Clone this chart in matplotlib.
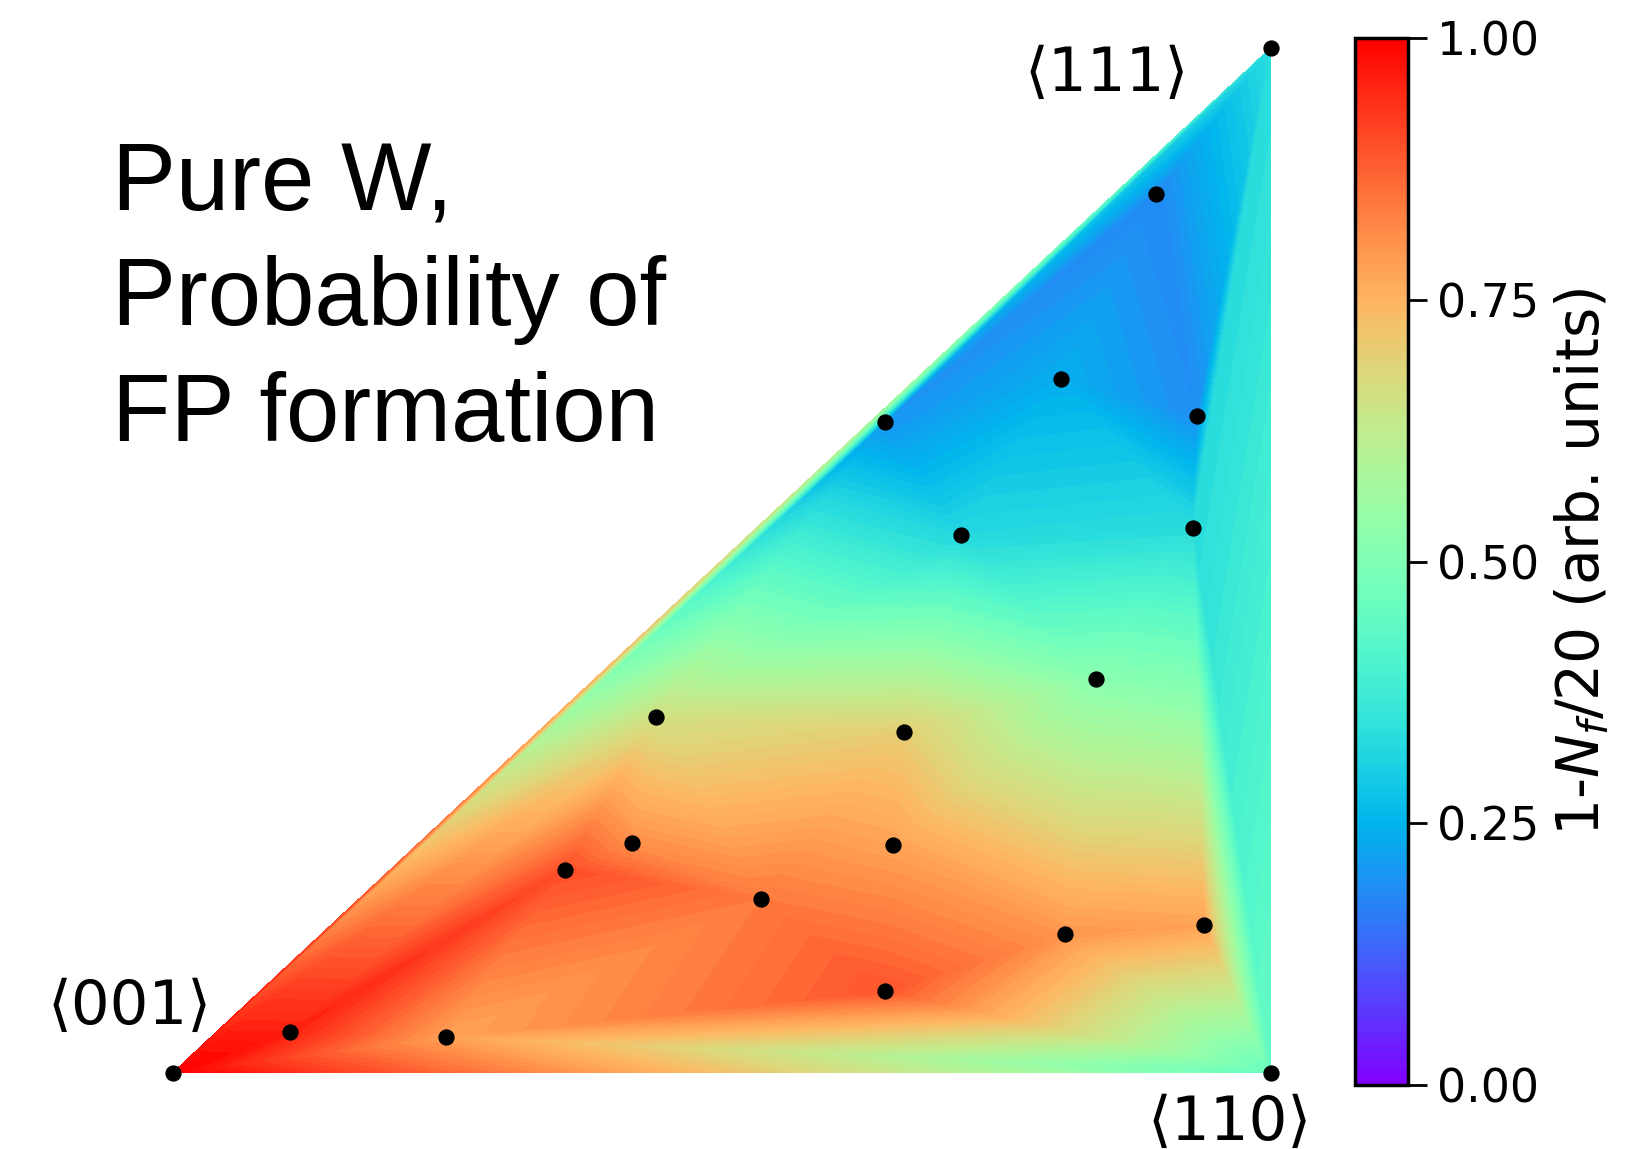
import matplotlib
matplotlib.use("Agg")
import matplotlib.pyplot as plt
import matplotlib.tri as mtri
import numpy as np

# Sample directions in the stereographic triangle (normalised coordinates)
# first three are the corners <001>, <110>, <111>
x_pts = [0.000, 1.000, 1.000,
         0.107, 0.249, 0.357, 0.418, 0.440, 0.536, 0.649, 0.656, 0.666,
         0.813, 0.939, 0.841, 0.718, 0.929, 0.649, 0.809, 0.933, 0.896]
y_pts = [0.000, 0.000, 1.000,
         0.040, 0.035, 0.198, 0.224, 0.347, 0.170, 0.080, 0.222, 0.333,
         0.135, 0.144, 0.384, 0.525, 0.532, 0.635, 0.677, 0.641, 0.858]
# 1 - N_f/20
prob = [1.00, 0.45, 0.33,
        0.96, 0.78, 0.90, 0.81, 0.66, 0.84, 0.89, 0.78, 0.70,
        0.80, 0.78, 0.52, 0.32, 0.33, 0.20, 0.24, 0.19, 0.18]

corner_labels = ["\u27e8001\u27e9", "\u27e8110\u27e9", "\u27e8111\u27e9"]
cbar_ticks = [0.0, 0.25, 0.5, 0.75, 1.0]

fig = plt.figure(figsize=(16.41, 11.49), dpi=100)
ax = fig.add_axes([0.1052, 0.0663, 0.6691, 0.8919])

tri = mtri.Triangulation(x_pts, y_pts)
levels = np.linspace(0, 1, 101)
cs = ax.tricontourf(tri, prob, levels=levels, cmap="rainbow", vmin=0, vmax=1)
ax.scatter(x_pts, y_pts, s=115, color="black", zorder=5, clip_on=False)

ax.set_xlim(0, 1)
ax.set_ylim(0, 1)
ax.axis("off")

# corner labels
ax.text(-0.039, 0.064, corner_labels[0], fontsize=44, ha="center", va="center")
ax.text(0.963, -0.049, corner_labels[1], fontsize=44, ha="center", va="center")
ax.text(0.851, 0.974, corner_labels[2], fontsize=44, ha="center", va="center")

fig.text(0.0683, 0.878, "Pure W,\nProbability of\nFP formation",
         fontsize=69, family="Liberation Sans", ha="left", va="top",
         linespacing=1.36)

# colorbar
cax = fig.add_axes([0.8257, 0.0554, 0.0323, 0.9117])
sm = matplotlib.cm.ScalarMappable(norm=matplotlib.colors.Normalize(0, 1), cmap="rainbow")
cb = fig.colorbar(sm, cax=cax, ticks=cbar_ticks)
cb.ax.set_yticklabels([f"{t:.2f}" for t in cbar_ticks])
cb.ax.tick_params(labelsize=33, length=14, width=2, pad=7)
cb.outline.set_linewidth(2.5)
cb.set_label("1-$N_f$/20 (arb. units)", fontsize=42, labelpad=10)

fig.savefig("out.png", dpi=100)
